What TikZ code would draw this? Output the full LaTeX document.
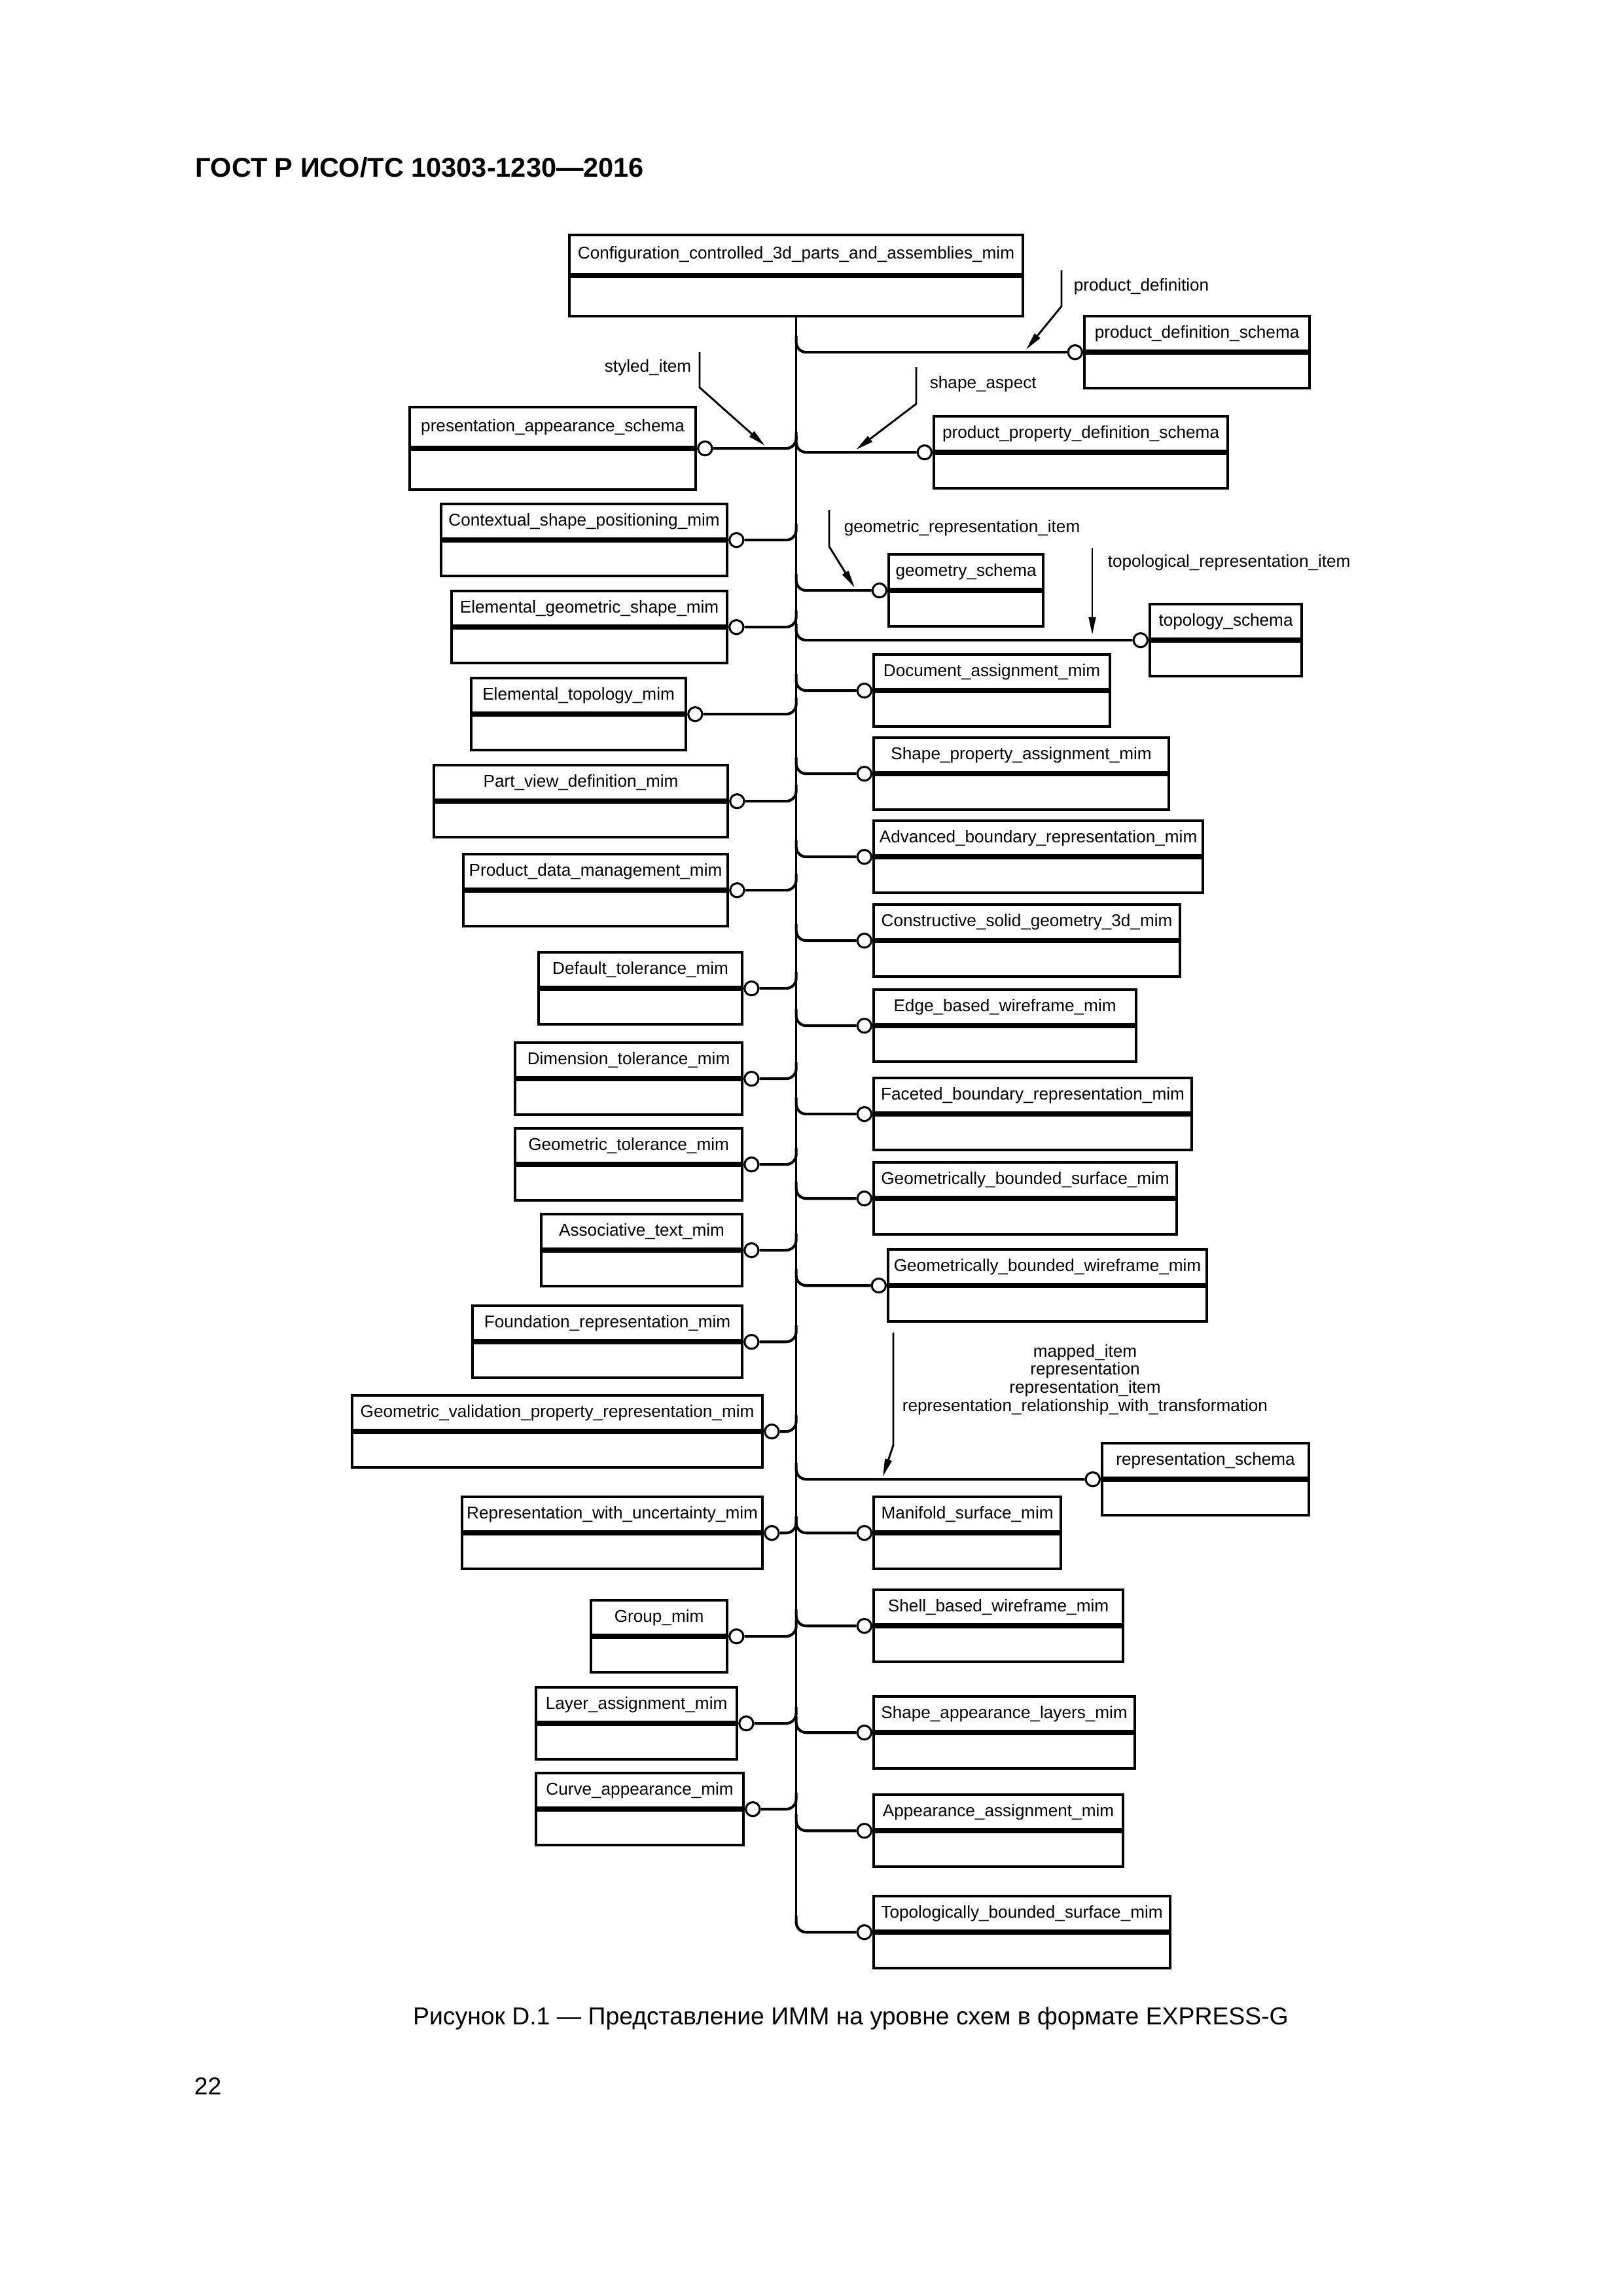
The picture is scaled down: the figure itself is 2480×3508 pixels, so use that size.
\documentclass[tikz,border=0pt]{standalone}
\usepackage{fontspec}
\setmainfont{Liberation Sans}
\usetikzlibrary{calc, arrows.meta}
\newdimen\px
\px=0.084667mm % one pixel of the page at 300 dpi
\tikzset{
schema/.style={draw, line width=1pt, inner xsep=0.5pt, inner ysep=0pt, font=\fontsize{6.3}{6.7}\selectfont}, % both parts of a schema box
conncircle/.style={draw, circle, fill=white, line width=0.75pt, minimum size=1.8mm, inner sep=0pt}, % open circle at the used schema
branch/.style={line width=1pt, rounded corners=1.3mm}, % line from the trunk to a schema
trunkline/.style={line width=0.7pt}, % the long vertical line
refarrow/.style={line width=0.7pt, -{Triangle[length=2.3mm, width=0.9mm]}}, % arrow of a referenced item
reflabel/.style={inner sep=0pt, font=\fontsize{6.3}{6.7}\selectfont}, % name of a referenced item
}
\begin{document}
\begin{tikzpicture}[x=\px, y=-\px]
\useasboundingbox (0,0) rectangle (2480,3508);

\node[anchor=base west, inner sep=0pt, font=\bfseries\fontsize{10}{12}\selectfont] (title) at (298,270) {ГОСТ Р ИСО/ТС 10303-1230—2016};

% main schema
\node[schema, anchor=north west, minimum width=693*\px, minimum height=60*\px] (cfg) at (868,357) {Configuration\_controlled\_3d\_parts\_and\_assemblies\_mim};
\node[schema, anchor=north, minimum width=693*\px, minimum height=60*\px] (cfg-b) at (cfg.south) {};
\coordinate (trunk) at (cfg-b.south);

% schemas on the right of the trunk
\foreach \nm/\xl/\yt/\xr/\hh/\txt in {
  pds/1655/481/1999/53/product\_definition\_schema,
  ppds/1425/634/1874/53/product\_property\_definition\_schema,
  geo/1356/845/1592/53/geometry\_schema,
  topo/1755/921/1987/53/topology\_schema,
  doc/1333/998/1694/53/Document\_assignment\_mim,
  spa/1333/1125/1784/53/Shape\_property\_assignment\_mim,
  abr/1333/1252/1836/53/Advanced\_boundary\_representation\_mim,
  csg/1333/1380/1801/53/Constructive\_solid\_geometry\_3d\_mim,
  ebw/1333/1510/1734/53/Edge\_based\_wireframe\_mim,
  fbr/1333/1645/1819/53/Faceted\_boundary\_representation\_mim,
  gbs/1333/1774/1796/53/Geometrically\_bounded\_surface\_mim,
  gbw/1355/1907/1842/53/Geometrically\_bounded\_wireframe\_mim,
  rep/1682/2203/1998/53/representation\_schema,
  mfs/1333/2285/1619/53/Manifold\_surface\_mim,
  sbw/1333/2427/1714/53/Shell\_based\_wireframe\_mim,
  sal/1333/2590/1732/53/Shape\_appearance\_layers\_mim,
  aam/1333/2740/1714/53/Appearance\_assignment\_mim,
  tbs/1333/2895/1786/53/Topologically\_bounded\_surface\_mim}{
  \node[schema, anchor=north west, minimum width=(\xr-\xl)*\px, minimum height=\hh*\px] (\nm) at (\xl,\yt) {\txt};
  \node[schema, anchor=north, minimum width=(\xr-\xl)*\px, minimum height=\hh*\px] (\nm-b) at (\nm.south) {};
  \node[conncircle, anchor=east] (\nm-c) at (\nm.south west) {};
  \draw[branch] ($(trunk |- \nm-c)+(0,-25)$) |- (\nm-c.west);
}

% schemas on the left of the trunk
\foreach \nm/\xl/\yt/\xr/\hh/\txt in {
  pas/624/620/1061/61/presentation\_appearance\_schema,
  csp/672/768/1109/53/Contextual\_shape\_positioning\_mim,
  egs/688/901/1109/53/Elemental\_geometric\_shape\_mim,
  etm/718/1034/1046/53/Elemental\_topology\_mim,
  pvd/661/1167/1110/53/Part\_view\_definition\_mim,
  pdm/706/1303/1110/53/Product\_data\_management\_mim,
  dtl/821/1453/1132/53/Default\_tolerance\_mim,
  dim/785/1591/1132/53/Dimension\_tolerance\_mim,
  gtl/785/1722/1132/53/Geometric\_tolerance\_mim,
  atx/825/1853/1132/53/Associative\_text\_mim,
  frm/720/1993/1132/53/Foundation\_representation\_mim,
  gvp/536/2130/1163/53/Geometric\_validation\_property\_representation\_mim,
  rwu/704/2285/1163/53/Representation\_with\_uncertainty\_mim,
  grp/901/2443/1109/53/Group\_mim,
  lam/817/2576/1124/53/Layer\_assignment\_mim,
  cam/817/2707/1134/53/Curve\_appearance\_mim}{
  \node[schema, anchor=north west, minimum width=(\xr-\xl)*\px, minimum height=\hh*\px] (\nm) at (\xl,\yt) {\txt};
  \node[schema, anchor=north, minimum width=(\xr-\xl)*\px, minimum height=\hh*\px] (\nm-b) at (\nm.south) {};
  \node[conncircle, anchor=west] (\nm-c) at (\nm.south east) {};
  \draw[branch] ($(trunk |- \nm-c)+(0,-25)$) |- (\nm-c.east);
}

\draw[trunkline] (trunk) -- ($(trunk |- tbs-c)+(0,-25)$);

% referenced items
\node[reflabel, anchor=west] (pd-l) at (1640,438) {product\_definition};
\coordinate (pd-s) at (1622,413);
\coordinate (pd-t) at (1568,534);
\draw[refarrow] (pd-s) -- ++(0,55) -- (pd-t);

\node[reflabel, anchor=east] (si-l) at (1057,562) {styled\_item};
\coordinate (si-s) at (1069,538);
\coordinate (si-t) at (1169,681);
\draw[refarrow] (si-s) -- ++(0,54) -- (si-t);

\node[reflabel, anchor=west] (sa-l) at (1420,587) {shape\_aspect};
\coordinate (sa-s) at (1400,561);
\coordinate (sa-t) at (1308,687);
\draw[refarrow] (sa-s) -- ++(0,56) -- (sa-t);

\node[reflabel, anchor=west] (gri-l) at (1289,807) {geometric\_representation\_item};
\coordinate (gri-s) at (1267,779);
\coordinate (gri-t) at (1306,898);
\draw[refarrow] (gri-s) -- ++(0,56) -- (gri-t);

\node[reflabel, anchor=west] (tri-l) at (1692,860) {topological\_representation\_item};
\coordinate (tri-s) at (1669,837);
\coordinate (tri-t) at (1669,970);
\draw[refarrow] (tri-s) -- (tri-t);

\node[reflabel, align=center] (mi-l) at (1658,2108) {mapped\_item\\representation\\representation\_item\\representation\_relationship\_with\_transformation};
\coordinate (mi-s) at (1365,2036);
\coordinate (mi-t) at (1349,2256);
\draw[refarrow] (mi-s) -- ++(0,172) -- (mi-t);

\node[anchor=base, inner sep=0pt, font=\fontsize{9}{11}\selectfont] (caption) at (1300,3093) {Рисунок D.1 — Представление ИММ на уровне схем в формате EXPRESS-G};
\node[anchor=base west, inner sep=0pt, font=\fontsize{9}{11}\selectfont] (page) at (296,3200) {22};
\end{tikzpicture}
\end{document}
